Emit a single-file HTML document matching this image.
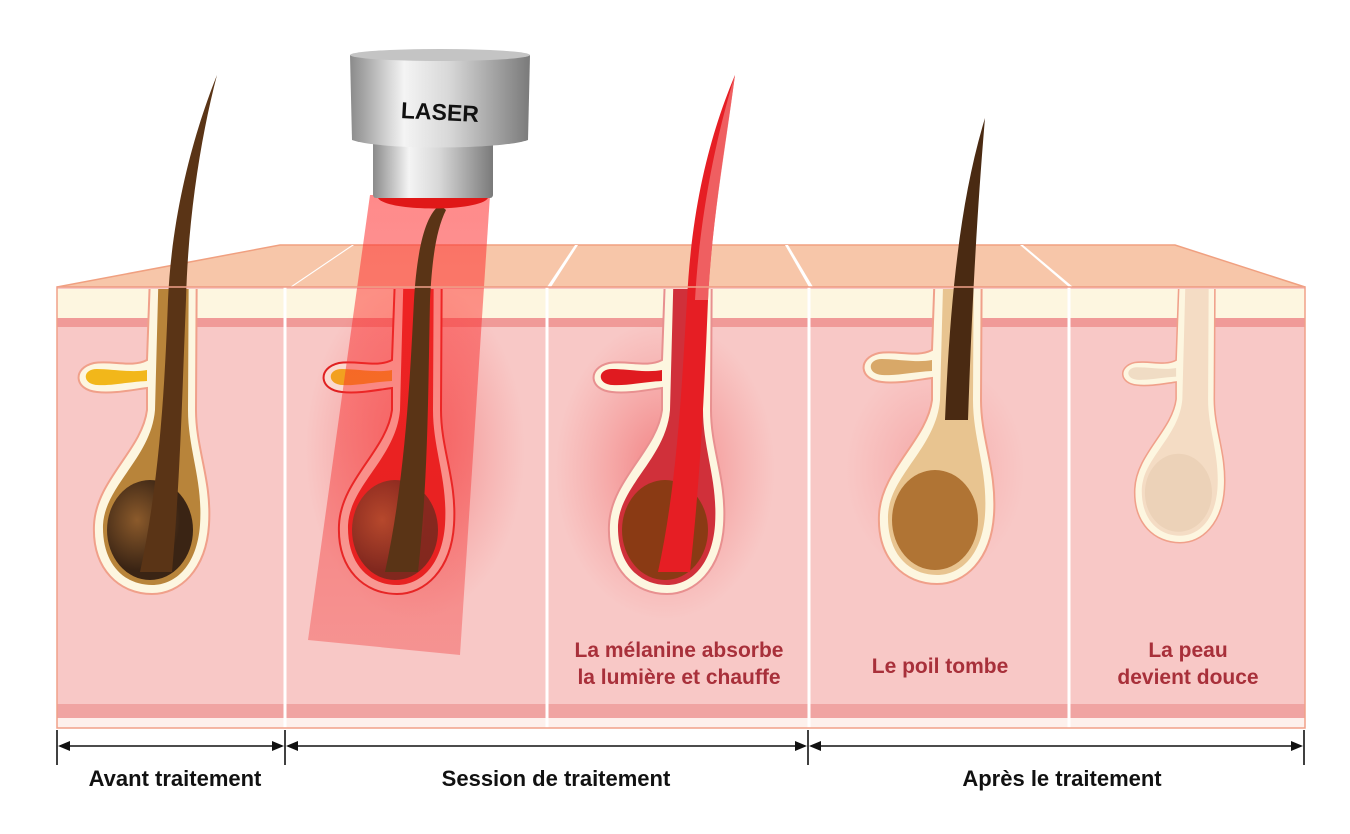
<!DOCTYPE html>
<html><head><meta charset="utf-8"><style>
html,body{margin:0;padding:0;background:#fff;}
svg{display:block;}
text{font-family:"Liberation Sans",sans-serif;}
</style></head><body>
<svg width="1350" height="834" viewBox="0 0 1350 834" xmlns="http://www.w3.org/2000/svg">
<defs>
<linearGradient id="metal" x1="0" x2="1" y1="0" y2="0">
<stop offset="0" stop-color="#8a8a8a"/><stop offset="0.3" stop-color="#f4f4f4"/><stop offset="0.55" stop-color="#d8d8d8"/><stop offset="1" stop-color="#7a7a7a"/></linearGradient>
<linearGradient id="beam" x1="0" x2="0" y1="0" y2="1">
<stop offset="0" stop-color="#ff2a2a" stop-opacity="0.55"/><stop offset="1" stop-color="#f03030" stop-opacity="0.35"/></linearGradient>
<radialGradient id="glow2"><stop offset="0" stop-color="#e8141a" stop-opacity="0.4"/><stop offset="1" stop-color="#f04040" stop-opacity="0"/></radialGradient>
<radialGradient id="bulb" cx="0.35" cy="0.4"><stop offset="0" stop-color="#8b5a2b"/><stop offset="1" stop-color="#3a2414"/></radialGradient>
<clipPath id="skin"><rect x="57" y="289" width="1248" height="440"/></clipPath>
<symbol id="fol" overflow="visible">
<path d="M0,-300 L45,-300 L44,-110 C44,-70 60,-40 57,5 C54,50 28,74 0,74 C-32,74 -60,50 -58,5 C-56,-40 -10,-70 -5,-110 L-5,-132 C-20,-130 -40,-126 -55,-128 C-78,-130 -80,-152 -58,-157 C-40,-160 -20,-152 -5,-160 Z" fill="var(--o)" stroke="var(--os)" stroke-width="2"/>
<path d="M8,-300 L37,-300 L36,-110 C36,-70 51,-40 48,5 C45,45 24,65 0,65 C-27,65 -50,45 -49,5 C-47,-35 -1,-62 3,-110 Z" fill="var(--m)"/>
<ellipse cx="-2" cy="10" rx="43" ry="50" fill="var(--b)"/>
<path d="M-5,-139 C-25,-138 -40,-134 -55,-135 C-70,-136 -70,-151 -55,-151 C-40,-151 -20,-147 -5,-150 Z" fill="var(--g)"/>
</symbol>
</defs>

<polygon points="57,287 280,245 1175,245 1305,287" fill="#f7c6a9" stroke="#f0a080" stroke-width="1.5"/>
<polygon points="290,287 352,245 354,245 292,287" fill="#fff"/>
<polygon points="547,287 575,245 578,245 551,287" fill="#fff"/>
<polygon points="809,287 785,245 788,245 813,287" fill="#fff"/>
<polygon points="1069,287 1020,245 1023,245 1073,287" fill="#fff"/>

<rect x="57" y="287" width="1248" height="441" fill="#f8c8c6"/>
<rect x="57" y="289" width="1248" height="29" fill="#fdf6e0"/>
<rect x="57" y="318" width="1248" height="9" fill="#f09a98"/>
<rect x="57" y="704" width="1248" height="14" fill="#f0a4a2"/>
<rect x="57" y="718" width="1248" height="10" fill="#fdf0ec"/>

<ellipse cx="415" cy="450" rx="110" ry="170" fill="url(#glow2)"/>
<ellipse cx="665" cy="470" rx="110" ry="150" fill="url(#glow2)"/>
<ellipse cx="935" cy="470" rx="90" ry="110" fill="url(#glow2)" opacity="0.5"/>

<g clip-path="url(#skin)">
<g style="--o:#fdf6e0;--os:#f0a08a;--m:#b8843a;--b:url(#bulb);--g:#f2b71a"><use href="#fol" x="152" y="520"/></g>
<g style="--o:#fbd9cf;--os:#e02020;--m:#e01a1a;--b:url(#bulb);--g:#f2a020"><use href="#fol" x="397" y="520"/></g>
<g style="--o:#fdf6e0;--os:#e89090;--m:#d0303a;--b:#8a3a14;--g:#e01a20"><use href="#fol" x="667" y="520"/></g>
<g style="--o:#fdf6e0;--os:#f0a08a;--m:#e8c490;--b:#b07434;--g:#d8a868"><use href="#fol" x="937" y="510"/></g>
<g style="--o:#fdf6e0;--os:#f0a08a;--m:#f4dcc4;--b:#ecd2b8;--g:#f0dcc4"><use href="#fol" transform="translate(1180,485) scale(0.78)"/></g>
</g>

<polygon points="370,195 490,195 460,655 308,640" fill="url(#beam)"/>

<path d="M140,572 C160,480 165,380 168,300 C172,210 195,130 217,75 C200,140 188,220 186,300 C182,400 180,480 172,572 Z" fill="#5a3416"/>
<path d="M385,572 C405,480 410,380 414,300 C417,250 425,215 440,205 L446,210 C436,230 432,260 430,300 C428,400 428,480 418,572 Z" fill="#5a3416"/>
<path d="M658,572 C678,480 682,380 687,300 C692,200 712,130 735,75 C725,150 712,220 708,300 C704,400 700,480 690,572 Z" fill="#e61e24"/>
<path d="M695,300 C700,210 718,130 735,75 C724,160 712,220 708,300 Z" fill="#f58a8a" opacity="0.6"/>
<path d="M945,420 C950,300 960,200 985,118 C978,200 972,300 968,420 Z" fill="#4a2a12"/>

<g stroke="#fff" stroke-width="3">
<line x1="285" y1="287" x2="285" y2="728"/><line x1="547" y1="287" x2="547" y2="728"/>
<line x1="809" y1="287" x2="809" y2="728"/><line x1="1069" y1="287" x2="1069" y2="728"/>
</g>
<rect x="57" y="287" width="1248" height="441" fill="none" stroke="#f0a088" stroke-width="1.5"/>

<rect x="373" y="140" width="120" height="58" fill="url(#metal)" rx="3"/>
<path d="M378,198 L488,198 C480,212 386,212 378,198 Z" fill="#e01818"/>
<path d="M350,55 L530,55 L528,140 C500,150 380,150 352,140 Z" fill="url(#metal)"/>
<ellipse cx="440" cy="55" rx="90" ry="6" fill="#c4c4c4"/>
<text x="440" y="120" font-size="23" font-weight="bold" text-anchor="middle" fill="#111" transform="rotate(3 440 112)">LASER</text>

<g fill="#a8303a" font-size="21" font-weight="bold" text-anchor="middle">
<text x="679" y="657">La mélanine absorbe</text>
<text x="679" y="684">la lumière et chauffe</text>
<text x="940" y="673">Le poil tombe</text>
<text x="1188" y="657">La peau</text>
<text x="1188" y="684">devient douce</text>
</g>

<g stroke="#111" stroke-width="1.6">
<line x1="57" y1="730" x2="57" y2="765"/><line x1="285" y1="730" x2="285" y2="765"/>
<line x1="808" y1="730" x2="808" y2="765"/><line x1="1304" y1="730" x2="1304" y2="765"/>
<line x1="60" y1="746" x2="282" y2="746"/><line x1="288" y1="746" x2="805" y2="746"/><line x1="811" y1="746" x2="1301" y2="746"/>
</g>
<g fill="#111">
<polygon points="58,746 70,741 70,751"/><polygon points="284,746 272,741 272,751"/>
<polygon points="286,746 298,741 298,751"/><polygon points="807,746 795,741 795,751"/>
<polygon points="809,746 821,741 821,751"/><polygon points="1303,746 1291,741 1291,751"/>
</g>
<g fill="#111" font-size="22" font-weight="bold" text-anchor="middle">
<text x="175" y="786">Avant traitement</text>
<text x="556" y="786">Session de traitement</text>
<text x="1062" y="786">Après le traitement</text>
</g>
</svg>
</body></html>
